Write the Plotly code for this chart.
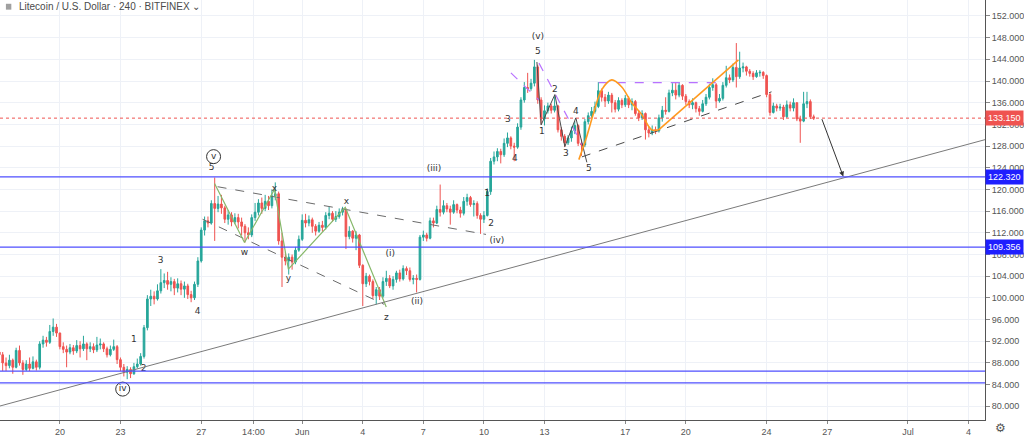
import pandas as pd
import plotly.graph_objects as go

# 4h Litecoin candles, one row per day (May 17 ... Jun 26 2019)
first_open = 90.0
closes = [
    89.5, 88.0, 87.5, 88.5, 87.2, 90.3,
    88.0, 86.8, 87.8, 87.0, 88.2, 87.2,
    91.5, 92.2, 91.8, 93.8, 94.6, 93.5,
    91.0, 90.5, 90.0, 90.8, 90.2, 91.2,
    90.6, 91.5, 90.6, 91.0, 90.4, 91.3,
    91.5, 90.6, 89.5, 90.5, 91.0, 88.6,
    87.2, 86.3, 86.8, 86.0, 87.3, 87.8,
    89.2, 94.5, 99.8, 100.3, 99.8, 101.3,
    102.8, 103.2, 102.5, 103.0, 101.8, 102.6,
    101.6, 102.2, 100.6, 100.0, 102.5, 106.8,
    112.5, 114.2, 113.8, 117.4, 116.5, 117.3,
    116.6, 114.5, 115.3, 114.0, 114.8, 114.0,
    113.2, 112.0, 111.6, 114.8, 115.8, 117.5,
    116.5, 117.8, 117.0, 118.8, 119.2, 110.5,
    107.5, 106.8, 107.5, 106.6, 108.8, 110.8,
    114.3, 113.8, 114.4, 113.2, 112.3, 113.4,
    113.0, 115.2, 115.6, 114.5, 115.0, 115.8,
    116.3, 111.3, 112.3, 111.0, 111.6, 106.0,
    102.6, 104.0, 103.0, 100.4, 101.5, 100.3,
    103.0, 103.6, 102.2, 103.4, 104.6, 103.5,
    105.4, 105.0, 103.4, 103.6, 103.4, 111.2,
    111.6, 111.0, 114.2, 113.8, 116.3, 115.8,
    117.0, 116.4, 115.8, 117.2, 116.2, 115.6,
    117.8, 118.5, 117.2, 117.4, 115.2, 114.5,
    115.2, 119.6, 125.2, 126.0, 127.0, 126.4,
    128.5, 129.5, 128.0, 127.8, 131.5, 136.5,
    138.8, 138.6, 139.6, 142.6, 136.5, 133.0,
    134.5, 135.4, 134.6, 135.4, 131.0, 129.8,
    128.6, 129.5, 130.8, 131.8, 128.5, 128.2,
    132.5, 133.6, 134.4, 135.3, 138.2, 137.0,
    136.3, 137.4, 136.0, 134.8, 136.4, 135.6,
    136.8, 135.6, 136.2, 134.0, 133.2, 134.0,
    131.0, 130.4, 131.0, 130.8, 133.2, 134.6,
    134.4, 137.8, 138.3, 137.4, 139.2, 137.2,
    136.2, 135.6, 136.0, 134.9, 134.4, 135.8,
    137.0, 138.8, 139.3, 136.3, 136.8, 139.2,
    140.6, 140.2, 142.5, 140.8, 142.4, 142.6,
    141.8, 141.4, 140.8, 141.5, 141.6, 141.0,
    137.5, 134.2, 135.4, 135.0, 135.2, 133.4,
    135.6, 135.0, 136.0, 133.0, 132.6, 135.8,
    136.2, 133.4, 133.15,
]
highs = [
    90.8, 90.0, 89.0, 89.5, 88.8, 90.8,
    91.2, 88.5, 88.5, 89.0, 89.2, 88.6,
    92.0, 93.0, 92.8, 95.0, 96.2, 95.2,
    93.6, 91.8, 91.2, 91.5, 91.3, 92.2,
    92.0, 93.0, 91.8, 91.8, 91.6, 92.8,
    92.5, 91.8, 91.0, 91.2, 92.3, 91.3,
    89.0, 87.8, 87.4, 87.2, 88.0, 88.8,
    89.8, 95.0, 100.5, 101.5, 101.2, 102.5,
    105.3, 104.5, 104.8, 103.8, 103.5, 103.6,
    103.2, 103.0, 102.6, 101.3, 103.0, 107.5,
    113.0, 115.0, 115.0, 118.0, 122.2, 118.8,
    119.0, 117.0, 116.2, 115.8, 115.6, 115.5,
    114.8, 113.6, 113.0, 115.4, 117.5, 118.2,
    118.5, 119.0, 118.8, 120.0, 121.3, 119.6,
    112.0, 108.5, 108.2, 108.0, 109.4, 111.5,
    115.4, 115.5, 115.2, 114.8, 113.6, 114.0,
    114.2, 115.8, 116.8, 116.0, 116.0, 116.5,
    116.8, 116.5, 113.2, 112.5, 112.3, 111.8,
    106.2, 104.6, 104.3, 103.4, 102.0, 102.0,
    103.8, 105.0, 104.2, 104.0, 105.0, 105.2,
    106.0, 105.8, 105.6, 104.2, 104.3, 111.6,
    112.4, 112.0, 114.8, 114.8, 117.0, 120.9,
    118.0, 117.5, 117.0, 118.0, 117.4, 116.8,
    118.6, 119.2, 118.8, 118.0, 117.8, 115.6,
    116.0, 120.2, 125.8, 127.0, 127.6, 127.5,
    129.4, 130.5, 129.8, 128.6, 132.2, 137.0,
    139.8, 141.5, 140.4, 143.9, 143.0, 137.0,
    135.5, 136.0, 135.8, 137.2, 135.6, 131.5,
    130.2, 130.0, 131.6, 132.6, 132.0, 129.2,
    133.0, 134.2, 135.2, 136.2, 139.8, 138.6,
    137.6, 138.0, 137.8, 136.5, 137.0, 136.8,
    137.4, 137.2, 136.8, 136.5, 134.6, 134.6,
    134.2, 131.6, 131.8, 131.6, 133.8, 135.4,
    137.0, 138.4, 139.6, 139.8, 139.8, 139.4,
    137.6, 136.6, 136.8, 136.2, 135.4, 136.5,
    137.6, 139.5, 140.5, 139.6, 137.6, 139.8,
    142.8, 141.2, 143.2, 147.0, 145.4, 143.4,
    142.8, 142.2, 141.8, 142.0, 142.0, 141.8,
    141.2, 137.8, 136.0, 135.8, 135.8, 135.6,
    136.4, 136.2, 136.8, 136.0, 133.6, 138.0,
    138.0, 136.6, 133.8,
]
lows = [
    87.5, 86.5, 86.5, 87.0, 86.0, 87.0,
    87.5, 85.8, 86.5, 86.5, 86.8, 86.6,
    86.8, 90.8, 91.0, 91.5, 93.0, 92.8,
    90.5, 89.8, 87.2, 89.6, 89.5, 89.8,
    89.0, 90.2, 88.5, 90.0, 89.8, 90.0,
    90.5, 90.0, 89.0, 89.2, 90.2, 87.8,
    86.5, 85.5, 85.0, 85.2, 85.8, 87.0,
    87.5, 88.8, 94.0, 98.5, 98.8, 99.5,
    100.8, 101.8, 101.5, 101.2, 100.5, 101.0,
    100.5, 100.0, 99.8, 99.2, 99.6, 102.0,
    106.5, 111.5, 113.0, 113.5, 110.5, 115.8,
    115.5, 113.8, 113.5, 113.2, 113.6, 112.8,
    111.5, 110.2, 110.8, 111.2, 114.2, 115.2,
    115.5, 116.0, 116.2, 116.5, 118.0, 109.8,
    102.0, 106.0, 104.3, 105.2, 106.2, 108.5,
    110.5, 113.0, 113.2, 112.0, 111.5, 112.0,
    112.2, 112.6, 114.5, 114.0, 114.0, 114.6,
    115.2, 109.0, 110.8, 110.2, 108.8, 105.5,
    98.5, 102.0, 102.3, 99.8, 98.8, 99.6,
    100.0, 102.2, 101.8, 101.5, 102.8, 103.0,
    103.2, 104.2, 103.0, 102.5, 101.0, 103.2,
    110.5, 110.4, 110.8, 113.0, 113.6, 115.0,
    115.4, 115.8, 113.5, 115.5, 115.6, 114.8,
    115.2, 117.0, 116.8, 115.0, 114.6, 111.8,
    113.8, 115.0, 119.0, 124.6, 125.2, 124.8,
    126.0, 127.8, 127.4, 125.2, 127.5, 131.0,
    136.0, 137.8, 138.2, 139.0, 135.8, 132.0,
    131.8, 134.0, 134.0, 134.2, 130.5, 129.0,
    127.8, 128.2, 128.8, 130.2, 128.0, 126.2,
    127.8, 132.0, 133.2, 134.0, 135.0, 136.2,
    135.2, 135.8, 134.2, 134.2, 134.4, 135.0,
    135.2, 135.0, 134.6, 133.6, 132.6, 132.8,
    129.2, 129.6, 130.0, 130.2, 130.5, 132.5,
    133.8, 134.2, 137.2, 136.6, 137.0, 136.5,
    135.6, 135.0, 134.8, 134.2, 133.6, 134.2,
    135.4, 136.6, 138.2, 135.0, 136.0, 136.4,
    138.8, 139.6, 139.8, 138.8, 140.4, 141.6,
    141.0, 140.8, 140.2, 140.6, 140.8, 140.4,
    137.0, 133.6, 134.0, 134.4, 134.5, 132.8,
    133.2, 134.4, 134.4, 132.6, 128.6, 132.4,
    135.0, 133.0, 132.8,
]
opens = [first_open] + closes[:-1]
times = pd.date_range("2019-05-17 00:00", periods=len(closes), freq="4h")

last_price = 133.15
hlines = [122.32, 109.356, 86.5, 84.3]
boxed = [(122.32, "122.320"), (109.356, "109.356")]

tick_vals = ["2019-05-20", "2019-05-23", "2019-05-27", "2019-05-29 14:00", "2019-06-01",
             "2019-06-04", "2019-06-07", "2019-06-10", "2019-06-13", "2019-06-17",
             "2019-06-20", "2019-06-24", "2019-06-27", "2019-07-01", "2019-07-04"]
tick_text = ["20", "23", "27", "14:00", "Jun", "4", "7", "10", "13", "17", "20", "24", "27", "Jul", "4"]
price_ticks = list(range(80, 153, 4))

# wave labels drawn on the chart
wave_labels = [
    ("2019-05-27 12:20", 124.0, "5"), ("2019-05-23 15:50", 92.2, "1"),
    ("2019-05-24 03:40", 87.0, "2"), ("2019-05-24 23:50", 106.9, "3"),
    ("2019-05-26 19:40", 97.5, "4"), ("2019-05-29 03:25", 108.4, "w"),
    ("2019-05-30 15:00", 120.2, "x"), ("2019-05-31 07:35", 103.6, "y"),
    ("2019-06-03 04:25", 117.8, "x"), ("2019-06-05 03:55", 96.4, "z"),
    ("2019-06-05 08:35", 108.2, "(i)"), ("2019-06-06 16:35", 99.2, "(ii)"),
    ("2019-06-07 12:50", 123.8, "(iii)"), ("2019-06-10 15:30", 110.6, "(iv)"),
    ("2019-06-10 03:40", 119.2, "1"), ("2019-06-10 08:25", 113.7, "2"),
    ("2019-06-11 04:35", 132.9, "3"), ("2019-06-11 12:50", 125.7, "4"),
    ("2019-06-12 16:10", 148.1, "(v)"), ("2019-06-12 16:10", 145.4, "5"),
    ("2019-06-12 20:55", 130.6, "1"), ("2019-06-13 12:20", 138.4, "2"),
    ("2019-06-14 01:25", 126.6, "3"), ("2019-06-14 13:15", 134.3, "4"),
    ("2019-06-15 04:40", 123.8, "5"),
]
circled = [("2019-05-27 14:40", 126.05, "v"), ("2019-05-23 02:40", 83.17, "iv")]

# hand-drawn lines: (times, prices, colour, dash, width, shape)
drawings = [
    (["2019-05-27 19:25", "2019-06-10 02:30"], [120.5, 111.7], "#6b6b6b", "dash", 1, "linear"),
    (["2019-05-27 01:35", "2019-06-05 01:30"], [114.5, 98.8], "#6b6b6b", "dash", 1, "linear"),
    (["2019-05-27 15:50", "2019-05-29 03:25", "2019-05-30 15:00", "2019-05-31 07:35",
      "2019-06-03 03:10", "2019-06-05 03:55"],
     [121.1, 110.2, 120.0, 105.3, 116.7, 98.3], "#86b86a", "solid", 1.2, "linear"),
    (["2019-06-11 08:05", "2019-06-12 17:25"], [141.5, 136.5], "#b872ff", "dash", 1.2, "linear"),
    (["2019-06-12 17:25", "2019-06-14 20:25"], [143.3, 128.3], "#b872ff", "dash", 1.2, "linear"),
    (["2019-06-15 16:30", "2019-06-21 15:00"], [139.7, 139.7], "#b872ff", "dash", 1.2, "linear"),
    (["2019-06-12 15:00", "2019-06-12 20:00", "2019-06-13 12:20", "2019-06-14 00:10",
      "2019-06-14 13:15", "2019-06-15 02:20"],
     [143.5, 131.9, 137.5, 127.9, 133.2, 125.0], "#4a4a4a", "solid", 1, "linear"),
    (["2019-06-14 20:25", "2019-06-24 05:50"], [126.0, 138.0], "#4a4a4a", "dash", 1, "linear"),
    (["2019-06-14 16:50", "2019-06-15 01:05", "2019-06-15 10:35", "2019-06-15 20:05",
      "2019-06-16 08:00", "2019-06-16 19:50", "2019-06-17 07:40", "2019-06-17 19:35",
      "2019-06-18 07:25", "2019-06-18 15:40"],
     [125.5, 129.2, 134.2, 138.4, 140.2, 138.9, 136.0, 133.8, 131.0, 131.0],
     "#ff9a1f", "solid", 1.6, "spline"),
    (["2019-06-18 15:40", "2019-06-22 14:35"], [131.0, 143.9], "#ff9a1f", "solid", 1.6, "linear"),
]

fig = go.Figure()

fig.add_trace(go.Candlestick(
    x=times, open=opens, high=highs, low=lows, close=closes,
    increasing=dict(line=dict(color="#26a69a", width=1), fillcolor="#26a69a"),
    decreasing=dict(line=dict(color="#ef5350", width=1), fillcolor="#ef5350"),
    whiskerwidth=0, hoverinfo="skip", showlegend=False,
))

for xs, ys, col, dash, w, shp in drawings:
    fig.add_trace(go.Scatter(x=xs, y=ys, mode="lines", hoverinfo="skip", showlegend=False,
                             line=dict(color=col, dash=dash, width=w, shape=shp)))

fig.add_trace(go.Scatter(
    x=[c[0] for c in circled], y=[c[1] for c in circled], text=[c[2] for c in circled],
    mode="markers+text", textposition="middle center", hoverinfo="skip", showlegend=False,
    marker=dict(symbol="circle-open", size=14, color="#333", line=dict(width=1, color="#333")),
    textfont=dict(size=9, color="#333", family="DejaVu Sans"),
))

fig.add_trace(go.Scatter(
    x=[w[0] for w in wave_labels], y=[w[1] for w in wave_labels], text=[w[2] for w in wave_labels],
    mode="text", hoverinfo="skip", showlegend=False,
    textfont=dict(size=9, color="#333", family="DejaVu Sans"),
))

# long trend line and the level lines
fig.add_shape(type="line", x0="2019-05-17 00:49", x1="2019-07-04 19:35", y0=80.05, y1=129.18,
              line=dict(color="#7a7a7a", width=1))
for lv in hlines:
    fig.add_shape(type="line", xref="paper", x0=0, x1=1, y0=lv, y1=lv,
                  line=dict(color="#4f4fff", width=1.2))
fig.add_shape(type="line", xref="paper", x0=0, x1=1, y0=last_price, y1=last_price,
              line=dict(color="#ef5350", width=1, dash="dot"))

fig.add_annotation(x="2019-06-27 19:10", y=122.37, ax="2019-06-26 17:05", ay=133.23,
                   xref="x", yref="y", axref="x", ayref="y", text="", showarrow=True,
                   arrowhead=2, arrowsize=1, arrowwidth=1, arrowcolor="#333")

fig.add_annotation(xref="paper", yref="y", x=1, y=last_price, xanchor="left", yanchor="middle",
                   text=f"{last_price:.3f}", showarrow=False, bgcolor="#ef5350", borderpad=2,
                   font=dict(size=9, color="white", family="Liberation Sans"))
for lv, txt in boxed:
    fig.add_annotation(xref="paper", yref="y", x=1, y=lv, xanchor="left", yanchor="middle",
                       text=txt, showarrow=False, bgcolor="#1f1fff", borderpad=2,
                       font=dict(size=9, color="white", family="Liberation Sans"))

fig.add_annotation(xref="paper", yref="paper", x=0.0172, y=0.984, xanchor="left", yanchor="middle",
                   text="Litecoin / U.S. Dollar · 240 · BITFINEX ⌄", showarrow=False,
                   font=dict(size=10, color="#4a4a4a", family="Liberation Sans"))
fig.add_shape(type="rect", xref="paper", yref="paper", x0=0.006, x1=0.0115, y0=0.977, y1=0.991,
              fillcolor="#a0a0a0", line=dict(width=0))
fig.add_annotation(xref="paper", yref="paper", x=1.0162, y=-0.018, xanchor="center", yanchor="middle",
                   text="⚙", showarrow=False, font=dict(size=12, color="#555", family="DejaVu Sans"))

fig.update_layout(
    width=1024, height=437,
    margin=dict(l=0, r=37, t=0, b=16),
    paper_bgcolor="white", plot_bgcolor="white",
    showlegend=False,
    xaxis=dict(type="date", range=["2019-05-17 00:49", "2019-07-04 19:35"],
               tickvals=tick_vals, ticktext=tick_text, rangeslider=dict(visible=False),
               showgrid=True, gridcolor="#eef1f7", showline=True, linecolor="#555", linewidth=1,
               ticks="outside", ticklen=3, tickcolor="#888",
               tickfont=dict(size=9, color="#555", family="Liberation Sans"), fixedrange=True),
    yaxis=dict(side="right", range=[77.47, 154.94], tickvals=price_ticks,
               ticktext=[f"{v:.3f}" for v in price_ticks],
               showgrid=True, gridcolor="#eef1f7", showline=True, linecolor="#555", linewidth=1,
               ticks="outside", ticklen=4, tickcolor="#888", zeroline=False,
               tickfont=dict(size=9, color="#555", family="Liberation Sans"), fixedrange=True),
)

# the page gets the browser's default 8px body margin otherwise
fig.write_html("out.html", config={"displayModeBar": False},
               post_script="document.body.style.margin='0px';document.body.style.overflow='hidden';")
